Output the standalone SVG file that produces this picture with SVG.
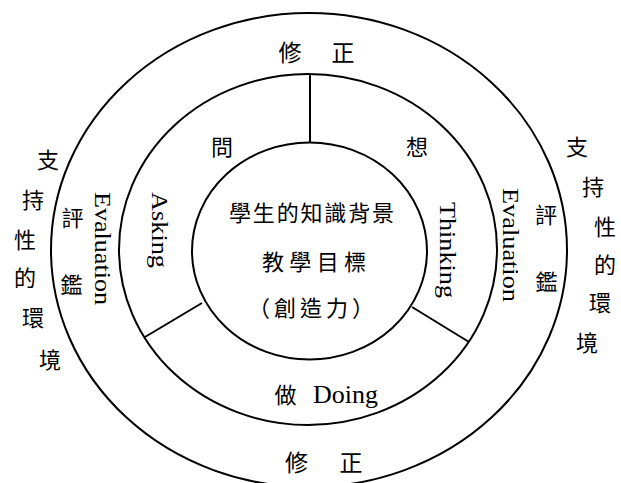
<svg xmlns="http://www.w3.org/2000/svg" width="621" height="483" viewBox="0 0 621 483">
<style>
.ring{fill:none;stroke:#000;stroke-width:2}
.conn{stroke:#000;stroke-width:2;fill:none}
.cjk{font-family:"Noto Sans CJK TC","Noto Sans CJK SC",sans-serif;font-size:22px;fill:#000;text-anchor:middle}
.big{font-size:23px}
.en{font-family:"Liberation Serif","Times New Roman",serif;font-size:24px;fill:#000}
</style>
<rect width="621" height="483" fill="#fff"/>
<g id="outer-ring">
<ellipse class="ring" cx="309" cy="250" rx="258" ry="237"/>
<text class="cjk big" x="290" y="60.5">修</text>
<text class="cjk big" x="343" y="60.5">正</text>
<text class="cjk big" x="296.5" y="470.5">修</text>
<text class="cjk big" x="351" y="470.5">正</text>
<text class="cjk" x="72.5" y="226.4">評</text>
<text class="cjk" x="71.5" y="293.4">鑑</text>
<text class="cjk" x="546" y="223.4">評</text>
<text class="cjk" x="546.5" y="290.4">鑑</text>
<text class="en" transform="translate(95,192) rotate(90)" textLength="113" lengthAdjust="spacingAndGlyphs">Evaluation</text>
<text class="en" transform="translate(503,188) rotate(90)" textLength="114" lengthAdjust="spacingAndGlyphs">Evaluation</text>
</g>
<g id="middle-ring">
<ellipse class="ring" cx="308" cy="249.5" rx="189" ry="175.5"/>
<text class="cjk" x="222" y="155.4">問</text>
<text class="cjk" x="417" y="155.4">想</text>
<text class="en" transform="translate(152,192) rotate(90)" textLength="76" lengthAdjust="spacingAndGlyphs">Asking</text>
<text class="en" transform="translate(440,202) rotate(90)" textLength="96" lengthAdjust="spacingAndGlyphs">Thinking</text>
<text class="cjk" x="285.5" y="403.4">做</text>
<text class="en" x="313" y="403" style="font-size:26px">Doing</text>
</g>
<g id="inner-circle">
<ellipse class="ring" cx="309.5" cy="251" rx="117.5" ry="108.5"/>
<text class="cjk" x="240 263.8 287.7 311.5 335.3 359.2 383" y="221.4">學生的知識背景</text>
<text class="cjk" x="273 300.3 327.7 355" y="270.4">教學目標</text>
<text class="cjk" x="259 285 311 337 363" y="316.4">（創造力）</text>
</g>
<g id="environment-left">
<text class="cjk" x="48" y="168.4">支</text>
<text class="cjk" x="33" y="208.4">持</text>
<text class="cjk" x="25" y="248.4">性</text>
<text class="cjk" x="25" y="286.4">的</text>
<text class="cjk" x="33" y="326.4">環</text>
<text class="cjk" x="50" y="368.4">境</text>
</g>
<g id="environment-right">
<text class="cjk" x="577" y="155.4">支</text>
<text class="cjk" x="593" y="195.4">持</text>
<text class="cjk" x="605" y="235.4">性</text>
<text class="cjk" x="605" y="273.4">的</text>
<text class="cjk" x="600" y="311.4">環</text>
<text class="cjk" x="587" y="351.4">境</text>
</g>
<g id="connectors">
<line class="conn" x1="310" y1="74" x2="310" y2="143"/>
<line class="conn" x1="202" y1="303" x2="145" y2="337"/>
<line class="conn" x1="412" y1="307" x2="469" y2="342"/>
</g>
</svg>
